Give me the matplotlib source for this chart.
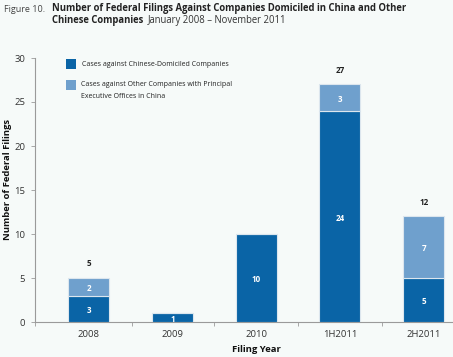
import matplotlib
matplotlib.use("Agg")
import matplotlib.pyplot as plt
from matplotlib.patches import Rectangle
import matplotlib.transforms as mtransforms

categories = ["2008", "2009", "2010", "1H2011", "2H2011"]
chinese_domiciled = [3, 1, 10, 24, 5]
other_companies = [2, 0, 0, 3, 7]
totals_shown = [5, None, None, 27, 12]
legend_labels = ["Cases against Chinese-Domiciled Companies",
                 "Cases against Other Companies with Principal",
                 "Executive Offices in China"]
yticks = [0, 5, 10, 15, 20, 25, 30]

DARK = "#0a64a6"
LIGHT = "#6fa0cd"
BG = "#f6faf9"
AXC = "#9a9a9a"
FONT = ["Open Sans", "DejaVu Sans"]
plt.rcParams["font.family"] = FONT

fig = plt.figure(figsize=(4.53, 3.57), dpi=100, facecolor=BG)
W, H = 453, 357
ax = fig.add_axes([35 / W, 1 - 322 / H, 1 - 35 / W, (322 - 58) / H])
ax.set_facecolor(BG)

x = list(range(len(categories)))
w = 0.49
ax.bar(x, chinese_domiciled, width=w, color=DARK, edgecolor="#dce6ee", linewidth=0.8, zorder=3)
ax.bar(x, other_companies, width=w, bottom=chinese_domiciled, color=LIGHT,
       edgecolor="#dce6ee", linewidth=0.8, zorder=3)

for i in x:
    d = chinese_domiciled[i]
    o = other_companies[i]
    ax.text(i, d / 2 - 0.2, str(d), ha="center", va="center", color="white",
            fontsize=5.8, fontweight="bold", zorder=4)
    if o > 0:
        ax.text(i, d + o / 2 - 0.2, str(o), ha="center", va="center", color="white",
                fontsize=5.8, fontweight="bold", zorder=4)
    if totals_shown[i] is not None:
        ax.text(i, d + o + 1.6, str(totals_shown[i]), ha="center", va="center",
                color="#222222", fontsize=5.8, fontweight="bold", zorder=4)

ax.set_xlim(-0.64, 4.35)
ax.set_ylim(0, 30)
ax.set_yticks(yticks)
ax.set_yticklabels([str(t) for t in yticks], fontsize=6.8, color="#333333")
ax.set_xticks(x)
ax.set_xticklabels(categories, fontsize=6.8, color="#333333")
ax.tick_params(axis="x", which="major", length=0, pad=6)
ax.set_xticks([-0.64, 0.52, 1.5, 2.5, 3.5], minor=True)
ax.tick_params(axis="x", which="minor", length=3, color=AXC, width=0.6, direction="out")
ax.tick_params(axis="y", length=3, color=AXC, width=0.6, pad=4)
for s in ["top", "right"]:
    ax.spines[s].set_visible(False)
for s in ["left", "bottom"]:
    ax.spines[s].set_color(AXC)
    ax.spines[s].set_linewidth(0.8)

ax.set_ylabel("Number of Federal Filings", fontsize=6.8, fontweight="bold", color="#111111")
ax.yaxis.set_label_coords(-0.054, 0.54)
trans = mtransforms.blended_transform_factory(ax.transData, fig.transFigure)
ax.text(2.0, 1 - 349 / H, "Filing Year", transform=trans, ha="center", va="center",
        fontsize=6.8, fontweight="bold", color="#111111")

# legend
for col, ty in [(DARK, 64), (LIGHT, 85)]:
    fig.patches.append(Rectangle((66 / W, 1 - (ty + 5) / H), 10 / W, 10 / H,
                                 transform=fig.transFigure, facecolor=col, edgecolor="none"))
fig.text(82 / W, 1 - 65 / H, legend_labels[0], fontsize=5, va="center", color="#222222")
fig.text(81 / W, 1 - 85 / H, legend_labels[1], fontsize=5, va="center", color="#222222")
fig.text(81 / W, 1 - 97 / H, legend_labels[2], fontsize=5, va="center", color="#222222")

# title
fig.canvas.draw()
r = fig.canvas.get_renderer()
fig.text(4 / W, 1 - 9 / H, "Figure 10.", fontsize=6.5, va="center", color="#444444")
fig.text(52 / W, 1 - 9 / H, "Number of Federal Filings Against Companies Domiciled in China and Other",
         fontsize=6.85, fontweight="bold", va="center", color="#222222")
t2 = fig.text(52 / W, 1 - 21 / H, "Chinese Companies", fontsize=6.85, fontweight="bold",
              va="center", color="#222222")
bb = t2.get_window_extent(renderer=r)
fig.text((bb.x1 + 5) / W, 1 - 21 / H, "January 2008 \u2013 November 2011", fontsize=6.85,
         va="center", color="#333333")

fig.savefig("out.png", dpi=100, facecolor=BG)
